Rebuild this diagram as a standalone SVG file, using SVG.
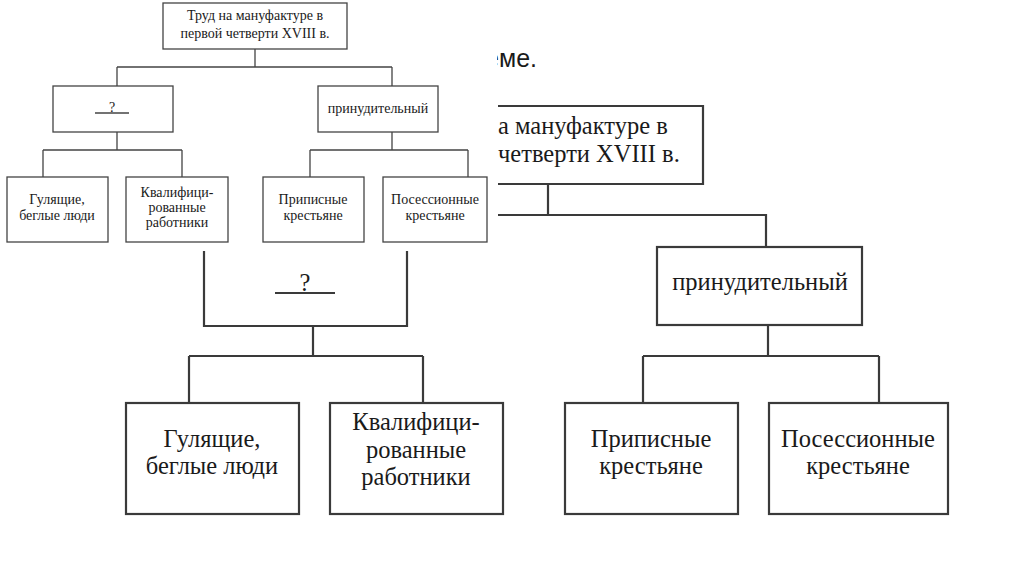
<svg xmlns="http://www.w3.org/2000/svg" width="1024" height="574" viewBox="0 0 1024 574">
<style>
.bg{fill:#fff}
.bb{fill:#fff;stroke:#3a3a3a;stroke-width:2.2}
.bl{fill:none;stroke:#3a3a3a;stroke-width:2.2}
.sb{fill:#fff;stroke:#444;stroke-width:1.3}
.sl{fill:none;stroke:#444;stroke-width:1.3}
.bt{font-family:"Liberation Serif","Times New Roman",serif;font-size:24.5px;fill:#1a1a1a;text-anchor:middle}
.st{font-family:"Liberation Serif","Times New Roman",serif;font-size:14px;fill:#1a1a1a;text-anchor:middle}
.hd{font-family:"Liberation Sans",Arial,sans-serif;font-size:25px;fill:#1a1a1a;text-anchor:end}
</style>
<defs>
<clipPath id="cl"><rect x="497" y="0" width="100" height="120"/></clipPath>
</defs>
<rect class="bg" x="0" y="0" width="1024" height="574"/>
<text class="hd" x="537" y="67" clip-path="url(#cl)">еме.</text>

<g id="big-connectors">
<path class="bl" d="M548,184 V215 M498,215 H766 V247"/>
<path class="bl" d="M313,326 V356 M189,356 H423 M189,356 V403 M423,356 V403"/>
<path class="bl" d="M768,325 V356 M643,356 H879 M643,356 V403 M879,356 V403"/>
</g>

<g id="big-root">
<path class="bl" d="M498,106 H703 V184 H498"/>
<text class="bt" x="498" y="134" style="text-anchor:start">а мануфактуре в</text>
<text class="bt" x="498" y="162" style="text-anchor:start">четверти XVIII в.</text>
</g>
<g id="big-q">
<path class="bl" d="M204,251 V326 H407 V251"/>
<text class="bt" x="305" y="291">?</text>
<line class="bl" x1="275" y1="293" x2="335" y2="293"/>
</g>
<g id="big-forced">
<rect class="bb" x="657" y="247" width="205" height="78"/>
<text class="bt" x="760" y="290">принудительный</text>
</g>
<g id="big-walking">
<rect class="bb" x="126" y="403" width="173" height="111"/>
<text class="bt" x="212" y="447">Гулящие,</text>
<text class="bt" x="212" y="474">беглые люди</text>
</g>
<g id="big-qualified">
<rect class="bb" x="330" y="403" width="173" height="111"/>
<text class="bt" x="416" y="430">Квалифици-</text>
<text class="bt" x="416" y="458">рованные</text>
<text class="bt" x="416" y="485">работники</text>
</g>
<g id="big-assigned">
<rect class="bb" x="565" y="403" width="173" height="111"/>
<text class="bt" x="651" y="447">Приписные</text>
<text class="bt" x="651" y="474">крестьяне</text>
</g>
<g id="big-possessional">
<rect class="bb" x="769" y="403" width="179" height="111"/>
<text class="bt" x="858" y="447">Посессионные</text>
<text class="bt" x="858" y="474">крестьяне</text>
</g>

<g id="small-connectors">
<path class="sl" d="M255,49 V67 M117,67 H392 M117,67 V86 M392,67 V86"/>
<path class="sl" d="M117,132 V150 M43,150 H182 M43,150 V177 M182,150 V177"/>
<path class="sl" d="M392,132 V150 M310,150 H468 M310,150 V177 M468,150 V177"/>
</g>
<g id="small-root">
<rect class="sb" x="163" y="3" width="184" height="46"/>
<text class="st" x="255" y="20">Труд на мануфактуре в</text>
<text class="st" x="255" y="38">первой четверти XVIII в.</text>
</g>
<g id="small-q">
<rect class="sb" x="53" y="86" width="120" height="46"/>
<text class="st" x="112" y="112">?</text>
<line class="sl" x1="95" y1="113" x2="129" y2="113"/>
</g>
<g id="small-forced">
<rect class="sb" x="318" y="86" width="120" height="46"/>
<text class="st" x="378" y="113">принудительный</text>
</g>
<g id="small-walking">
<rect class="sb" x="7" y="177" width="101" height="65"/>
<text class="st" x="57" y="204">Гулящие,</text>
<text class="st" x="57" y="220">беглые люди</text>
</g>
<g id="small-qualified">
<rect class="sb" x="126" y="177" width="102" height="65"/>
<text class="st" x="177" y="197">Квалифици-</text>
<text class="st" x="177" y="212">рованные</text>
<text class="st" x="177" y="227">работники</text>
</g>
<g id="small-assigned">
<rect class="sb" x="263" y="177" width="101" height="65"/>
<text class="st" x="313" y="204">Приписные</text>
<text class="st" x="313" y="220">крестьяне</text>
</g>
<g id="small-possessional">
<rect class="sb" x="383" y="177" width="104" height="65"/>
<text class="st" x="435" y="204">Посессионные</text>
<text class="st" x="435" y="220">крестьяне</text>
</g>
</svg>
